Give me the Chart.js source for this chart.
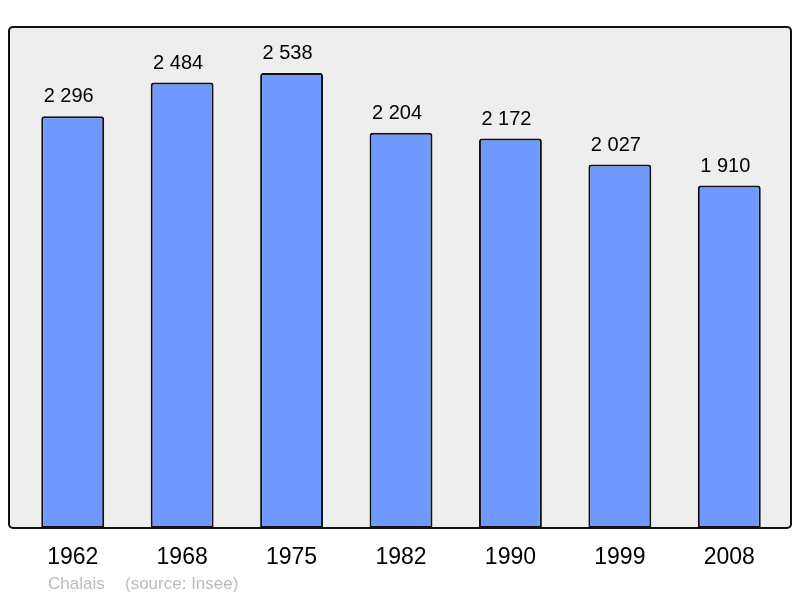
<!DOCTYPE html>
<html><head><meta charset="utf-8">
<script src="https://cdn.jsdelivr.net/npm/chart.js@4/dist/chart.umd.min.js"></script>
<style>html,body{margin:0;padding:0;background:#fff}#w{width:800px;height:598px}</style>
</head><body><div id="w"><canvas id="c"></canvas></div>
<script>
const years = ["1962","1968","1975","1982","1990","1999","2008"];
const population = [2296, 2484, 2538, 2204, 2172, 2027, 1910];
const valueLabels = ["2 296","2 484","2 538","2 204","2 172","2 027","1 910"];
const sourceName = "Chalais";
const sourceNote = "(source: Insee)";

const FONT = "'Liberation Sans', Arial, sans-serif";

const frame = {
  id: 'frame',
  beforeDatasetsDraw(chart) {
    const ctx = chart.ctx, a = chart.chartArea;
    ctx.save();
    ctx.beginPath();
    ctx.roundRect(9, 27, 782, a.bottom - 27, 4);
    ctx.fillStyle = '#eeeeee';
    ctx.fill();
    ctx.restore();
  },
  afterDatasetsDraw(chart) {
    const ctx = chart.ctx, a = chart.chartArea;
    const meta = chart.getDatasetMeta(0);
    ctx.save();
    ctx.font = "20px " + FONT;
    ctx.fillStyle = '#000';
    ctx.textAlign = 'center';
    ctx.textBaseline = 'alphabetic';
    meta.data.forEach((bar, i) => {
      ctx.fillText(valueLabels[i], bar.x - 4, bar.y - 14);
    });
    ctx.beginPath();
    ctx.roundRect(9, 27, 782, a.bottom - 27, 4);
    ctx.lineWidth = 2;
    ctx.strokeStyle = '#111';
    ctx.stroke();
    ctx.font = "17px " + FONT;
    ctx.fillStyle = '#bbbbbb';
    ctx.textAlign = 'left';
    ctx.textBaseline = 'middle';
    ctx.fillText(sourceName, 48, 584);
    ctx.fillText(sourceNote, 125, 584);
    ctx.restore();
  }
};

new Chart(document.getElementById('c'), {
  type: 'bar',
  data: {
    labels: years,
    datasets: [{
      data: population,
      backgroundColor: '#7099ff',
      borderColor: '#111',
      borderWidth: 2,
      borderSkipped: false,
      borderRadius: {topLeft: 3, topRight: 3, bottomLeft: 0, bottomRight: 0},
      barPercentage: 0.575,
      categoryPercentage: 1
    }]
  },
  options: {
    responsive: true,
    maintainAspectRatio: false,
    animation: false,
    devicePixelRatio: 1,
    layout: {padding: {left: 18, right: 16, top: 27, bottom: 11.4}},
    plugins: {legend: {display: false}, tooltip: {enabled: false}},
    scales: {
      x: {
        grid: {display: false, drawTicks: false},
        border: {display: false},
        ticks: {font: {family: FONT, size: 23}, color: '#000', padding: 15.5}
      },
      y: {display: false, min: 0, max: 2794}
    }
  },
  plugins: [frame]
});
</script></body></html>
